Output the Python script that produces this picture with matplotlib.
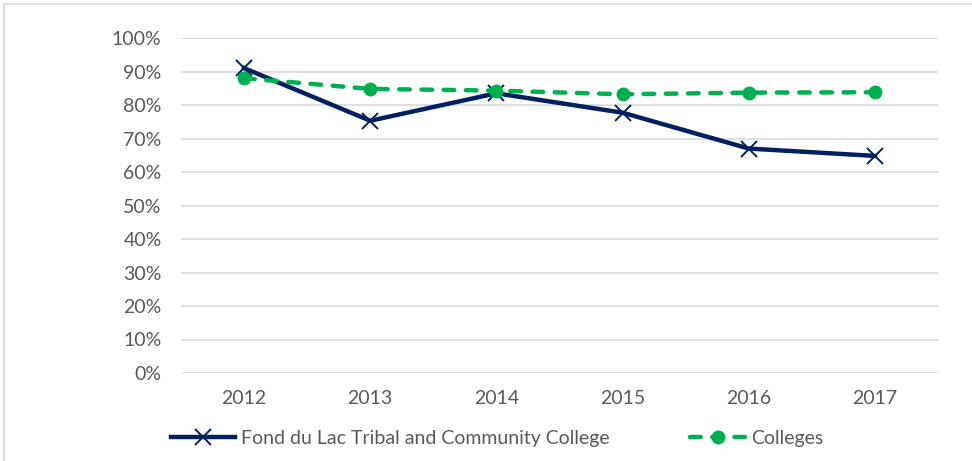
import matplotlib.pyplot as plt
from matplotlib.lines import Line2D

years = ['2012', '2013', '2014', '2015', '2016', '2017']
fond_du_lac = [0.91, 0.753, 0.835, 0.777, 0.67, 0.648]
colleges = [0.88, 0.848, 0.843, 0.832, 0.837, 0.838]

plt.rcParams['font.family'] = ['Lato', 'DejaVu Sans']
grey = '#595959'

fig = plt.figure(figsize=(9.72, 4.61), dpi=100)
ax = fig.add_axes([181/972, 1 - 373/461, (938 - 181)/972, (373 - 38)/461])

x = range(len(years))
l1, = ax.plot(x, fond_du_lac, color='#002060', lw=3.2, marker='x', ms=11, mew=1.4,
              label='Fond du Lac Tribal and Community College', zorder=3)
l2, = ax.plot(x, colleges, color='#00B050', lw=3.2, ls=(0, (2.4, 2.6)), marker='o', ms=9,
              label='Colleges', zorder=3, dash_capstyle='round')

ax.set_xlim(-0.5, 5.5)
ax.set_ylim(0, 1)
ax.set_yticks([i/10 for i in range(11)])
ax.set_yticklabels([f'{i*10}%' for i in range(11)])
ax.set_xticks(list(x))
ax.set_xticklabels(years)
ax.tick_params(length=0, labelsize=14, colors=grey)
ax.tick_params(axis='x', pad=12)
ax.tick_params(axis='y', pad=14)
ax.grid(axis='y', color='#d9d9d9', lw=1.2)
ax.set_axisbelow(True)
for s in ax.spines.values():
    s.set_visible(False)

# two legend entries placed separately, like the original
leg_y = 1 - 438/461
for line, left, hl in [(l1, 171, 3.3), (l2, 690, 2.84)]:
    leg = fig.legend([line], [line.get_label()], loc='center left',
                     bbox_to_anchor=(left/972, leg_y), frameon=False, fontsize=14,
                     handlelength=hl, handletextpad=0.3, borderpad=0, borderaxespad=0)
    for t in leg.get_texts():
        t.set_color(grey)

# chart frame edges (top and left only visible in crop)
fig.add_artist(Line2D([4/972, 1], [1 - 4/461, 1 - 4/461], color='#d9d9d9', lw=1.2))
fig.add_artist(Line2D([4/972, 4/972], [0, 1 - 4/461], color='#d9d9d9', lw=1.2))

plt.savefig('out.png')
